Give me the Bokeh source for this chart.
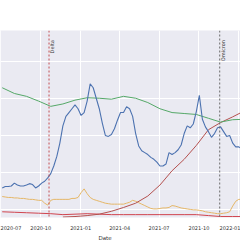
import pandas as pd
from math import pi
from bokeh.plotting import figure
from bokeh.models import Range1d, FixedTicker, Span, Label, Title, DatetimeTickFormatter, ColumnDataSource
from bokeh.embed import file_html
from bokeh.resources import INLINE

# ---- data ----
weekly_dates = pd.date_range("2020-07-04", periods=80, freq="7D")
blue_vals = [31, 32.5, 32.5, 33, 36, 34, 33, 33, 34, 35.5, 34.5, 31, 33, 36, 38, 41.5, 46, 54, 64, 78,
             96, 106, 110, 114, 118, 114, 107, 110, 122, 140, 136, 125, 114, 99, 86, 85, 87, 93, 102, 110,
             110, 116, 114, 106, 88, 75, 70, 68, 66, 63, 61, 58, 54, 54, 56, 68, 66, 68, 71, 76,
             88, 96, 94, 98, 111, 128, 103, 95, 90, 84, 88, 94, 95, 90, 85, 86, 78, 74, 74, 72]
orange_vals = [22, 21.5, 21, 21, 20.5, 20.5, 20, 20, 19.5, 19, 19, 18.5, 18, 18, 15, 13, 18, 19, 19, 19,
               19, 19, 19, 20, 20, 21, 26, 30, 25, 21, 19, 18, 17, 16, 15, 14.5, 14, 14, 14, 14,
               14, 15, 16, 18, 17, 15.5, 14, 12.5, 11, 9.5, 9, 9, 9.5, 10, 10, 10.5, 12.5, 12, 11, 10,
               9.5, 9, 8.5, 8, 8, 7.5, 7, 6, 5.5, 5, 4.5, 4, 4, 4.5, 5, 6, 12, 17, 19, 19]

monthly_dates = pd.date_range("2020-07-04", periods=21, freq="28D")
green_vals = [136, 130, 127, 122, 116.5, 119, 123, 125.5, 125, 124, 127, 125, 120.5, 114, 110, 109,
              108, 104, 100, 102.5, 103]
red_vals = [6, 5.5, 5, 4.5, 4, 3, 3.5, 4, 3.5, 3, 3, 3, 3, 3, 3, 3, 3, 2, 1, 1, 1]
rising_dates = monthly_dates[5:]
rising_vals = [0.5, 1, 2, 3.5, 6.5, 10.5, 15, 22.5, 34, 49, 61, 75.5, 92, 99.5, 105.5, 112]

tick_dates = ["2020-07-01", "2020-10-01", "2021-01-01", "2021-04-01", "2021-07-01", "2021-10-01", "2022-01-01"]
event_names = ["Delta", "Omicron"]
event_dates = ["2020-10-20", "2021-11-18"]
event_colors = ["#c44e52", "#6b6b6b"]
y_grid_vals = [8, 47, 86, 125, 164]


def ms(d):
    return pd.Timestamp(d).value / 1e6


p = figure(width=240, height=240, x_axis_type="datetime", output_backend="svg", toolbar_location=None,
           x_range=Range1d(ms("2020-06-30"), ms("2022-01-05")), y_range=Range1d(0, 196),
           min_border_left=0, min_border_right=0, min_border_top=30, min_border_bottom=14)
p.background_fill_color = "#eaeaf2"
p.border_fill_color = "white"
p.outline_line_color = None

p.xaxis.ticker = FixedTicker(ticks=[ms(d) for d in tick_dates])
p.xaxis.formatter = DatetimeTickFormatter(days="%Y-%m", months="%Y-%m", years="%Y-%m")
p.xaxis.axis_line_color = None
p.xaxis.major_tick_line_color = None
p.xaxis.minor_tick_line_color = None
p.xaxis.major_label_standoff = 2
p.xaxis.major_label_text_font_size = "5px"
p.xaxis.major_label_text_font = "DejaVu Sans"
p.xaxis.major_label_text_color = "#333333"
p.yaxis.visible = False
p.ygrid.ticker = FixedTicker(ticks=y_grid_vals)
p.xgrid.grid_line_color = "white"
p.ygrid.grid_line_color = "white"
p.xgrid.grid_line_width = 1
p.ygrid.grid_line_width = 1

wsrc = ColumnDataSource(dict(d=list(weekly_dates), blue=blue_vals, orange=orange_vals))
msrc = ColumnDataSource(dict(d=list(monthly_dates), green=green_vals, red=red_vals))
rsrc = ColumnDataSource(dict(d=list(rising_dates), v=rising_vals))

p.line("d", "red", source=msrc, color="#d0454f", line_width=1)
p.line("d", "orange", source=wsrc, color="#e5b768", line_width=1)
p.line("d", "v", source=rsrc, color="#b4514f", line_width=1)
p.line("d", "green", source=msrc, color="#55a868", line_width=1)
p.line("d", "blue", source=wsrc, color="#4c72b0", line_width=1.1)

for name, d, c in zip(event_names, event_dates, event_colors):
    p.add_layout(Span(location=ms(d), dimension="height", line_color=c, line_dash="2 2", line_width=1))
    p.add_layout(Label(x=ms(d), y=186, text=name, angle=pi / 2, text_align="right", text_baseline="top",
                       text_font_size="5px", text_font="DejaVu Sans", text_color="#333333"))

p.add_layout(Title(text="Date", align="left", offset=98, standoff=0, text_font_size="5.5px",
                   text_font="DejaVu Sans", text_font_style="normal", text_color="#333333"), "below")

open("out.html", "w").write(file_html(p, INLINE))
